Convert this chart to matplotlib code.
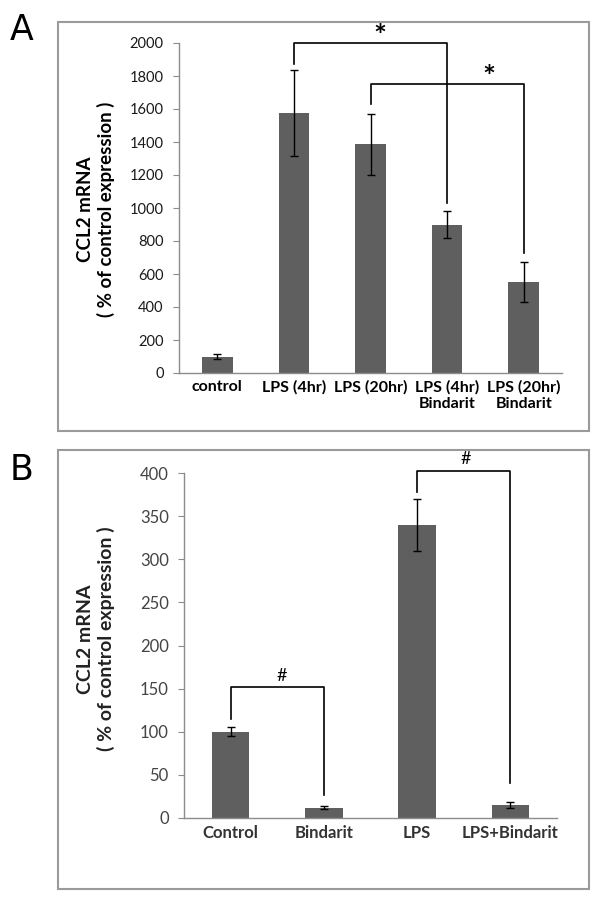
import numpy as np
import matplotlib.pyplot as plt
from matplotlib.patches import Rectangle

# panel A data
labels_a = ['control', 'LPS (4hr)', 'LPS (20hr)', 'LPS (4hr)\nBindarit', 'LPS (20hr)\nBindarit']
means_a = [100, 1575, 1385, 900, 550]
errs_a = [15, 260, 187, 79, 121]

# panel B data
labels_b = ['Control', 'Bindarit', 'LPS', 'LPS+Bindarit']
means_b = [100, 12, 340, 15]
errs_b = [5, 2, 30, 3]

ylabel = 'CCL2 mRNA\n( % of control expression )'
bar_color = '#5f5f5f'
spine_color = '#8c8c8c'

plt.rcParams['font.family'] = ['Lato', 'DejaVu Sans']

fig = plt.figure(figsize=(6, 9.02), dpi=100)
W, H = 600.0, 902.0


def fx(px):
    return px / W


def fy(py):
    return 1 - py / H


# outer boxes
for (x0, y0, x1, y1) in [(58, 22, 589, 431), (58, 450, 589, 889)]:
    fig.patches.append(Rectangle((fx(x0), fy(y1)), fx(x1) - fx(x0), fy(y0) - fy(y1),
                                 transform=fig.transFigure, fill=False,
                                 edgecolor='#9a9a9a', linewidth=1.5))

fig.text(fx(22), fy(30), 'A', fontsize=25, family='DejaVu Sans', ha='center', va='center')
fig.text(fx(22), fy(470), 'B', fontsize=25, family='DejaVu Sans', ha='center', va='center')


def style_axes(ax, tick_color, ysize):
    for s in ['top', 'right']:
        ax.spines[s].set_visible(False)
    for s in ['left', 'bottom']:
        ax.spines[s].set_color(spine_color)
        ax.spines[s].set_linewidth(1.0)
    ax.tick_params(axis='y', direction='out', length=4, color=spine_color,
                   labelsize=ysize, labelcolor=tick_color, pad=7)
    ax.tick_params(axis='x', length=0, pad=5)


def bracket(ax, x1, x2, y, y1, y2, text, tx, ty, **kw):
    ax.plot([x1, x1, x2, x2], [y1, y, y, y2], color='black', lw=1.2, clip_on=False)
    ax.text(tx, ty, text, ha='center', va='center', clip_on=False, **kw)


# panel A
axa = fig.add_axes([fx(179), fy(373), fx(562) - fx(179), fy(43) - fy(373)])
xa = np.arange(len(labels_a))
axa.bar(xa, means_a, width=0.4, color=bar_color, yerr=errs_a,
        error_kw=dict(ecolor='black', elinewidth=1.0, capsize=3, capthick=1.0))
axa.set_xlim(-0.5, len(labels_a) - 0.5)
axa.set_ylim(0, 2000)
axa.set_yticks(np.arange(0, 2001, 200))
axa.set_xticks(xa)
axa.set_xticklabels(labels_a, fontweight='bold', va='top', linespacing=1.2, fontsize=11.5)
style_axes(axa, '#1a1a1a', 10.5)
bracket(axa, 1, 3, 2000, 1875, 1028, '*', 2.12, 2035, fontsize=22, fontweight='bold')
bracket(axa, 2, 4, 1754, 1633, 726, '*', 3.55, 1785, fontsize=22, fontweight='bold')
fig.text(fx(96), fy(209), ylabel, rotation=90, ha='center', va='center',
         fontsize=13.5, fontweight='bold', linespacing=1.15)

# panel B
axb = fig.add_axes([fx(184), fy(818), fx(557) - fx(184), fy(473) - fy(818)])
xb = np.arange(len(labels_b))
axb.bar(xb, means_b, width=0.4, color=bar_color, yerr=errs_b,
        error_kw=dict(ecolor='black', elinewidth=1.0, capsize=3, capthick=1.0))
axb.set_xlim(-0.5, len(labels_b) - 0.5)
axb.set_ylim(0, 400)
axb.set_yticks(np.arange(0, 401, 50))
axb.set_xticks(xb)
axb.set_xticklabels(labels_b, fontweight='bold', color='#333333', fontsize=12)
style_axes(axb, '#444444', 12)
bracket(axb, 0, 1, 152, 115, 27, '#', 0.55, 165, fontsize=13)
bracket(axb, 2, 3, 402, 378, 41, '#', 2.52, 416, fontsize=13)
fig.text(fx(96), fy(639), ylabel, rotation=90, ha='center', va='center',
         fontsize=14, fontweight='bold', linespacing=1.15, color='#222222')

fig.savefig('out.png', dpi=100)
